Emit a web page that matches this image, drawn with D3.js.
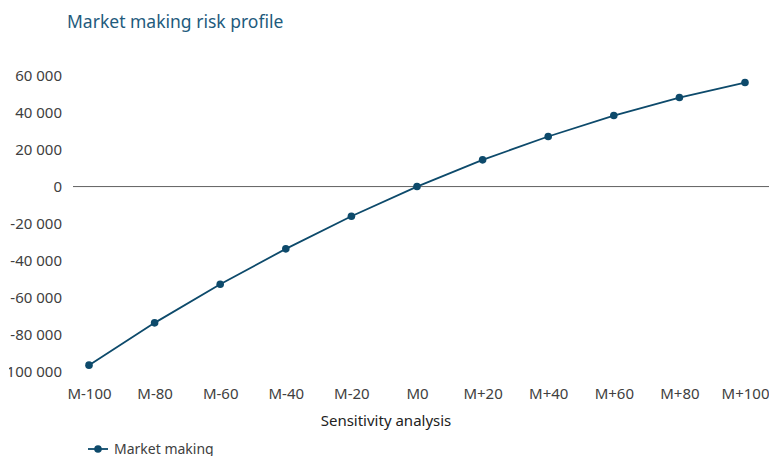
<!DOCTYPE html>
<html>
<head>
<meta charset="utf-8">
<script src="https://cdn.jsdelivr.net/npm/d3@7/dist/d3.min.js"></script>
<style>
  html, body { margin: 0; padding: 0; background: #fff; }
  svg { display: block; font-family: "Noto Sans", sans-serif; }
</style>
</head>
<body>
<svg id="chart" width="769" height="456"></svg>
<script>
// Scenario shifts and the resulting P&L of the market making book
const categories = ["M-100", "M-80", "M-60", "M-40", "M-20", "M0", "M+20", "M+40", "M+60", "M+80", "M+100"];
const marketMaking = [-96300, -73500, -52700, -33600, -16000, 0, 14400, 27000, 38300, 48000, 56100];
const yTicks = [60000, 40000, 20000, 0, -20000, -40000, -60000, -80000, -100000];
const yTickLabels = ["60 000", "40 000", "20 000", "0", "-20 000", "-40 000", "-60 000", "-80 000", "-100 000"];

const svg = d3.select("#chart");
const lineColor = "#0d4a6b";
const textColor = "#404040";
const fontFamily = "Noto Sans, sans-serif";

const x = d3.scalePoint().domain(categories).range([89, 745]);
const y = d3.scaleLinear().domain([-100000, 60000]).range([372, 75.3]);

// Title
svg.append("text")
  .attr("x", 67).attr("y", 28)
  .attr("fill", "#1f5b7d")
  .attr("font-size", 17.5)
  .text("Market making risk profile");

// Y axis labels; the plot's left margin ends at x=9
svg.append("clipPath").attr("id", "leftEdge")
  .append("rect").attr("x", 9).attr("y", 0).attr("width", 200).attr("height", 456);

const yWrap = svg.append("g").attr("clip-path", "url(#leftEdge)");
const yAxis = yWrap.append("g")
  .attr("transform", "translate(62,0)")
  .call(d3.axisLeft(y).tickValues(yTicks).tickSize(0).tickPadding(0)
    .tickFormat((d, i) => yTickLabels[i]));
yAxis.select(".domain").remove();
yAxis.selectAll("text")
  .attr("fill", textColor)
  .attr("font-size", 15)
  .attr("font-family", fontFamily);

// Zero baseline
svg.append("line")
  .attr("x1", 73).attr("x2", 769)
  .attr("y1", y(0)).attr("y2", y(0))
  .attr("stroke", "#606060").attr("stroke-width", 1);

// X axis labels
const xAxis = svg.append("g")
  .attr("transform", "translate(0,388)")
  .call(d3.axisBottom(x).tickSize(0).tickPadding(0));
xAxis.select(".domain").remove();
xAxis.selectAll("text")
  .attr("fill", textColor)
  .attr("font-size", 15)
  .attr("font-family", fontFamily);

svg.append("text")
  .attr("x", 386).attr("y", 426)
  .attr("text-anchor", "middle")
  .attr("fill", "#222")
  .attr("font-size", 15)
  .text("Sensitivity analysis");

// Series line and markers
const line = d3.line()
  .x((d, i) => x(categories[i]))
  .y(d => y(d));

svg.append("path")
  .datum(marketMaking)
  .attr("d", line)
  .attr("fill", "none")
  .attr("stroke", lineColor)
  .attr("stroke-width", 1.8);

svg.selectAll("circle.pt")
  .data(marketMaking)
  .join("circle")
  .attr("class", "pt")
  .attr("cx", (d, i) => x(categories[i]))
  .attr("cy", d => y(d))
  .attr("r", 3.8)
  .attr("fill", lineColor);

// Legend
const lg = svg.append("g").attr("transform", "translate(88,449)");
lg.append("line").attr("x1", 0).attr("x2", 20).attr("y1", 0).attr("y2", 0)
  .attr("stroke", lineColor).attr("stroke-width", 1.8);
lg.append("circle").attr("cx", 10).attr("cy", 0).attr("r", 3.8).attr("fill", lineColor);
lg.append("text").attr("x", 26).attr("y", 5)
  .attr("fill", textColor).attr("font-size", 14)
  .text("Market making");
</script>
</body>
</html>
